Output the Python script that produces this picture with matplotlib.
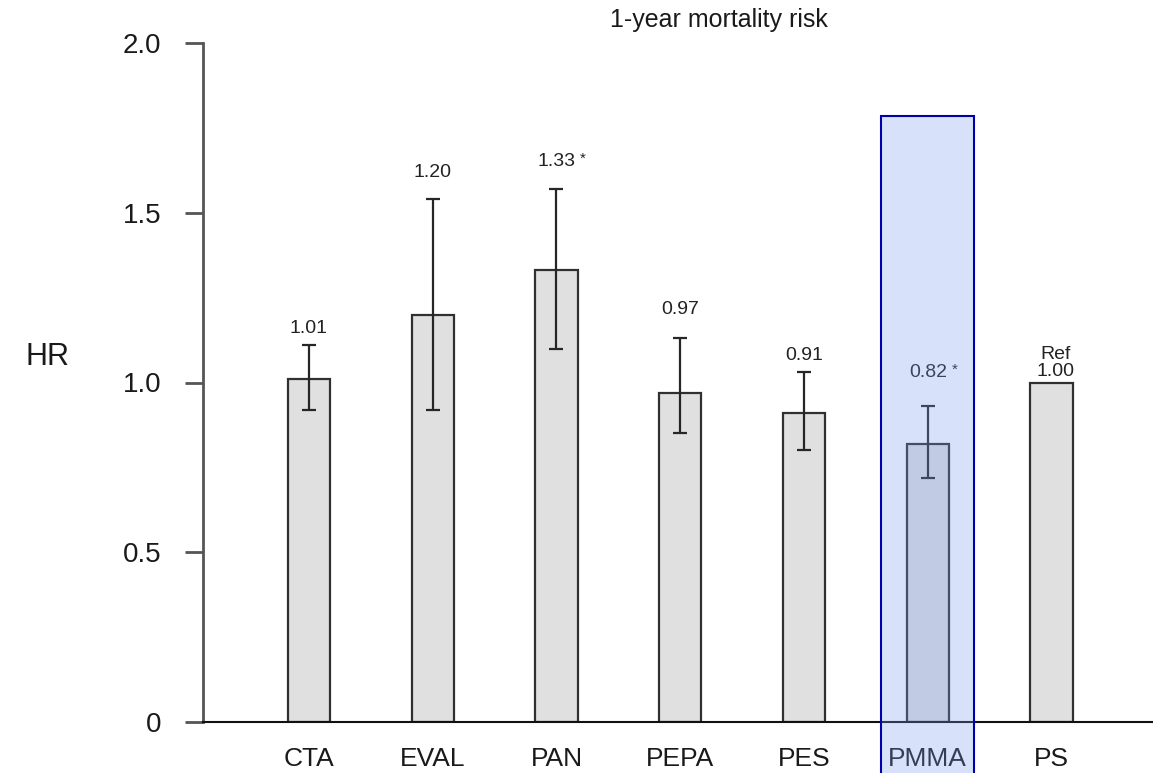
import matplotlib
matplotlib.use("Agg")
import matplotlib.pyplot as plt
from matplotlib.patches import Rectangle

# Hazard ratios for 1-year mortality by dialyzer membrane (PS = reference)
membranes = ["CTA", "EVAL", "PAN", "PEPA", "PES", "PMMA", "PS"]
hr = [1.01, 1.20, 1.33, 0.97, 0.91, 0.82, 1.00]
ci_low = [0.92, 0.92, 1.10, 0.85, 0.80, 0.72, None]
ci_high = [1.11, 1.54, 1.57, 1.13, 1.03, 0.93, None]
significant = [False, False, True, False, False, True, False]
reference = "PS"
highlight = "PMMA"
y_ticks = [0, 0.5, 1.0, 1.5, 2.0]
y_tick_labels = ["0", "0.5", "1.0", "1.5", "2.0"]

plt.rcParams["font.family"] = ["Liberation Sans", "DejaVu Sans"]

fig = plt.figure(figsize=(11.53, 7.73), dpi=100)
ax = fig.add_axes([203 / 1153, 1 - 722 / 773, 1 - 203 / 1153, (722 - 43) / 773])

x = list(range(len(membranes)))
ax.bar(x, hr, width=0.34, color="#e0e0e0", edgecolor="#303030",
       linewidth=1.6, zorder=2)

# confidence intervals
for xi, h, lo, hi in zip(x, hr, ci_low, ci_high):
    if lo is None:
        continue
    ax.errorbar(xi, h, yerr=[[h - lo], [hi - h]], fmt="none",
                ecolor="#262626", elinewidth=1.6, capsize=4.8,
                capthick=1.6, zorder=3)

# value labels above the whiskers (gap in points)
label_gap = [12, 19, 20, 21, 12, 24]
for xi, h, hi, sig, name, gap in zip(x, hr, ci_high, significant,
                                     membranes, label_gap + [0]):
    if name == reference:
        ax.annotate(f"Ref\n{h:.2f}", (xi, h), xytext=(3, 1.5),
                    textcoords="offset points", ha="center", va="bottom",
                    fontsize=14, color="#222222", linespacing=1.05)
        continue
    ax.annotate(f"{h:.2f}", (xi, hi), xytext=(0, gap),
                textcoords="offset points", ha="center", va="center",
                fontsize=14, color="#222222")
    if sig:
        ax.annotate("*", (xi, hi), xytext=(17, gap + 2),
                    textcoords="offset points", ha="left", va="center",
                    fontsize=11, color="#222222")

# highlighted membrane band
hx = membranes.index(highlight)
band = Rectangle((hx - 0.376, -0.16), 0.752, 1.785 + 0.16,
                 facecolor=(120 / 255, 152 / 255, 238 / 255, 0.29),
                 edgecolor="#0000aa", linewidth=1.5, zorder=10,
                 clip_on=False)
ax.add_patch(band)

ax.set_xlim(-0.856, 6.82)
ax.set_ylim(0, 2.0)
ax.set_yticks(y_ticks)
ax.set_yticklabels(y_tick_labels)
ax.set_xticks(x)
ax.set_xticklabels(membranes)

for s in ["top", "right"]:
    ax.spines[s].set_visible(False)
ax.spines["left"].set_color("#555555")
ax.spines["left"].set_linewidth(2.0)
ax.spines["bottom"].set_color("#111111")
ax.spines["bottom"].set_linewidth(1.5)

ax.tick_params(axis="y", length=13, width=2.0, color="#555555",
               pad=17, labelsize=20, labelcolor="#1a1a1a")
ax.tick_params(axis="x", length=0, pad=18, labelsize=19,
               labelcolor="#1a1a1a")

fig.text(47 / 1153, 1 - 357 / 773, "HR", ha="center", va="center",
         fontsize=22, color="#1a1a1a")
fig.text(719 / 1153, 1 - 20 / 773, "1-year mortality risk", ha="center",
         va="center", fontsize=18, color="#1a1a1a")

fig.savefig("out.png", dpi=100)
